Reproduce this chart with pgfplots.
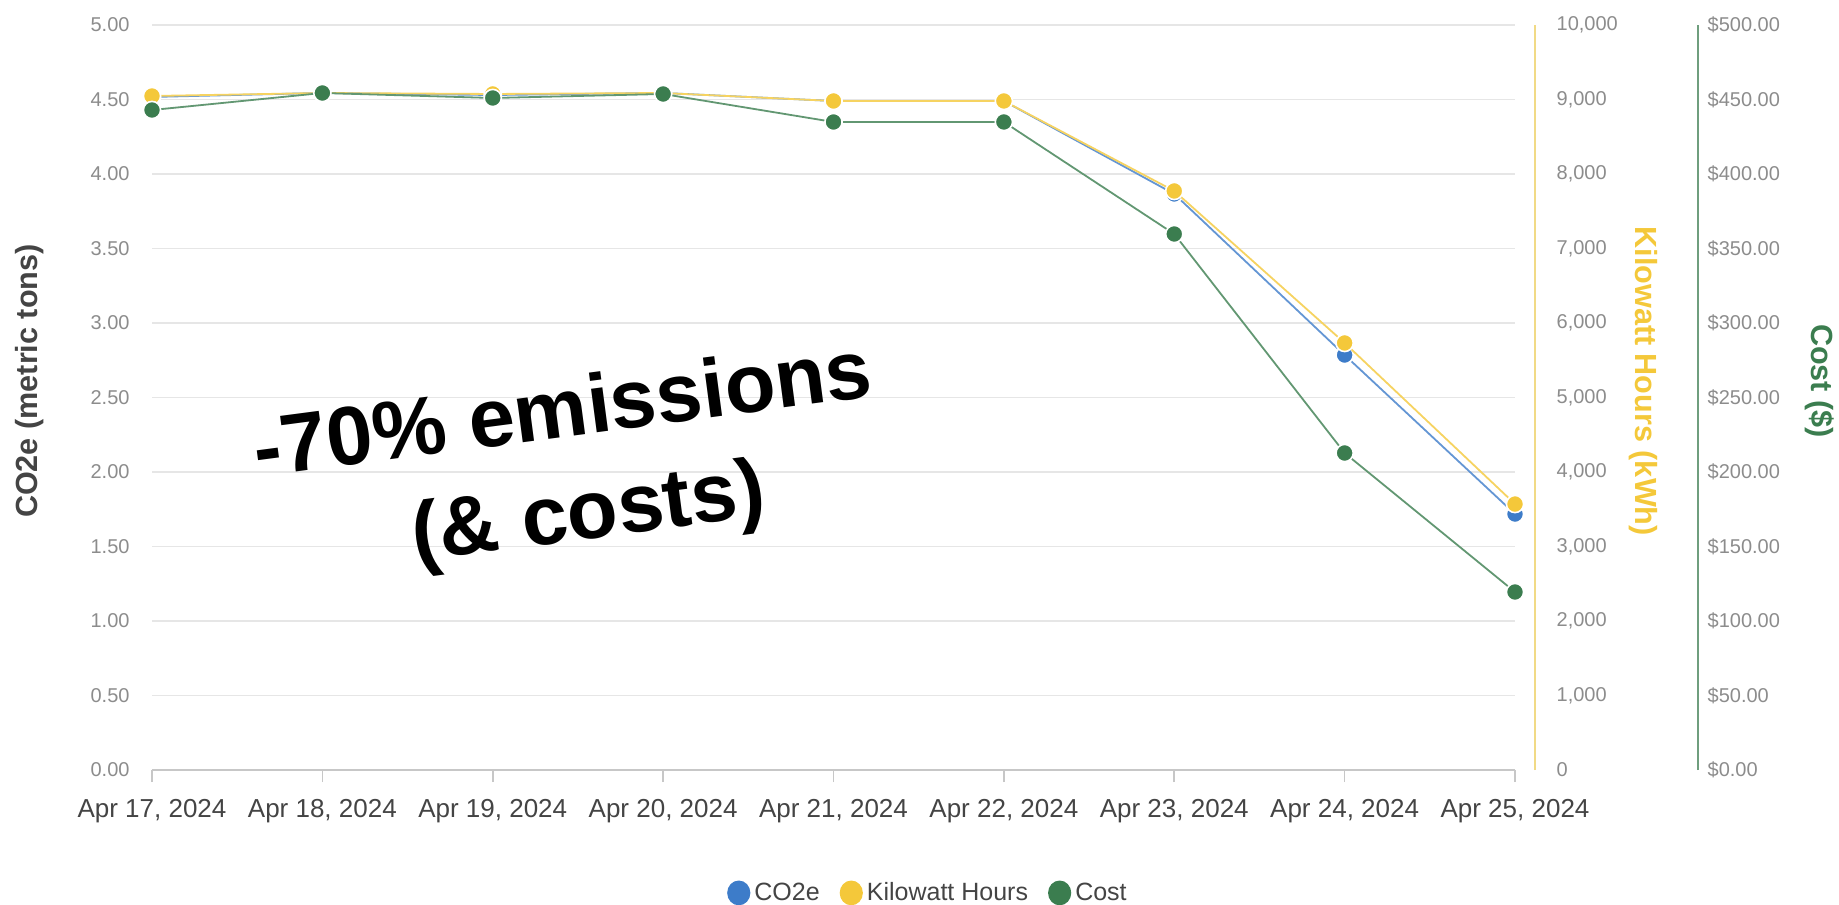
\documentclass[border=0pt]{standalone}
\usepackage{fontspec}
\setmainfont{Liberation Sans}
\usepackage{pgfplots}
\pgfplotsset{compat=1.18}

\definecolor{co2blue}{HTML}{3D7CC9}
\definecolor{kwhyellow}{HTML}{F4C83A}
\definecolor{costgreen}{HTML}{3B7D4F}
\definecolor{textgray}{HTML}{444444}
\definecolor{tickgray}{HTML}{8C8C8C}
\definecolor{gridgray}{HTML}{E6E6E6}
\definecolor{kwhline}{HTML}{F1DA86}
\definecolor{costline}{HTML}{6F9E7E}

\pgfkeys{/pgf/number format/assume math mode=true}

\tikzset{axtitle/.style={font=\fontsize{15.3}{18}\selectfont\bfseries, anchor=center}}

\pgfplotsset{
  common/.style={
    scale only axis, width=681.5pt, height=372.5pt,
    at={(0,0)}, anchor=south west,
    xmin=0, xmax=8, clip=false, scaled y ticks=false,
    yticklabel style={font=\fontsize{10}{12}\selectfont, text=tickgray},
  },
  series/.style={color=#1!80!white, line width=0.9pt, mark=*, mark size=4.3pt,
    mark options={fill=#1, draw=white, line width=0.8pt}},
}

\begin{document}
\begin{tikzpicture}

% left axis: CO2e, grid, dates, legend
\begin{axis}[common,
  ymin=0, ymax=5, ytick={0,0.5,...,5},
  axis x line*=bottom, axis y line*=left,
  y axis line style={draw=none},
  x axis line style={draw=black!22, line width=1pt},
  tick align=outside, major tick length=6pt,
  xtick={0,...,8},
  xticklabels={{Apr 17, 2024},{Apr 18, 2024},{Apr 19, 2024},{Apr 20, 2024},{Apr 21, 2024},{Apr 22, 2024},{Apr 23, 2024},{Apr 24, 2024},{Apr 25, 2024}},
  xtick style={draw=black!22, line width=0.8pt},
  ytick style={draw=none},
  ymajorgrids, grid style={gridgray, line width=0.8pt},
  xticklabel style={font=\fontsize{13}{15}\selectfont, text=textgray, anchor=base, yshift=-17.5pt},
  yticklabel style={anchor=east, xshift=-1.7pt,
    /pgf/number format/fixed, /pgf/number format/fixed zerofill,
    /pgf/number format/precision=2},
  ylabel={CO2e (metric tons)},
  ylabel style={axtitle, text=textgray, at={(axis description cs:-0.0895,0.522)}},
  legend image code/.code={\path[draw=none, #1] (0pt,0pt) ellipse (5.8pt and 6.2pt);},
  legend style={at={(0.570,-0.165)}, anchor=center, draw=none, fill=none,
    legend columns=3, font=\fontsize{12.5}{14}\selectfont, text=textgray,
    /tikz/every even column/.append style={column sep=8pt}},
]
\addplot[series=co2blue, forget plot] coordinates {
(0,4.517) (1,4.544) (2,4.530) (3,4.544) (4,4.490) (5,4.490) (6,3.866) (7,2.785) (8,1.718)
};
\addlegendimage{fill=co2blue}
\addlegendentry{CO2e}
\addlegendimage{fill=kwhyellow}
\addlegendentry{Kilowatt Hours}
\addlegendimage{fill=costgreen}
\addlegendentry{Cost}
\end{axis}

% kWh axis
\begin{axis}[common,
  ymin=0, ymax=10000, ytick={0,1000,...,10000},
  axis x line=none, axis y line*=right, axis y line shift=10pt,
  y axis line style={draw=kwhline, line width=1pt},
  major tick length=0pt, ytick style={draw=none},
  yticklabel style={anchor=west, xshift=7.3pt,
    /pgf/number format/fixed, /pgf/number format/1000 sep={,}},
  ylabel={Kilowatt Hours (kWh)},
  ylabel style={axtitle, text=kwhyellow, at={(axis description cs:1.0939,0.522)}, rotate=180},
]
\addplot[series=kwhyellow] coordinates {
(0,9047) (1,9087) (2,9074) (3,9087) (4,8980) (5,8980) (6,7772) (7,5732) (8,3570)
};
\end{axis}

% cost axis
\begin{axis}[common,
  ymin=0, ymax=500, ytick={0,50,...,500},
  axis x line=none, axis y line*=right, axis y line shift=91.5pt,
  y axis line style={draw=costline, line width=1pt},
  major tick length=0pt, ytick style={draw=none},
  yticklabel={\$\pgfmathprintnumber[fixed,fixed zerofill,precision=2]{\tick}},
  yticklabel style={anchor=west, xshift=1.3pt},
  ylabel={Cost (\$)},
  ylabel style={axtitle, text=costgreen, at={(axis description cs:1.2238,0.522)}, rotate=180},
]
\addplot[series=costgreen] coordinates {
(0,442.95) (1,454.36) (2,451.01) (3,453.69) (4,434.90) (5,434.90) (6,359.73) (7,212.75) (8,119.46)
};
\node[rotate=7.5, align=center, inner sep=0pt,
  font=\fontsize{41.5}{52}\selectfont\bfseries]
  at (rel axis cs:0.3067,0.4066) {-70\% emissions\\\hspace*{12pt}(\& costs)};
\end{axis}

\pgfresetboundingbox
\path[use as bounding box] (-76pt,-67pt) rectangle (843.5pt,385pt);
\end{tikzpicture}
\end{document}
